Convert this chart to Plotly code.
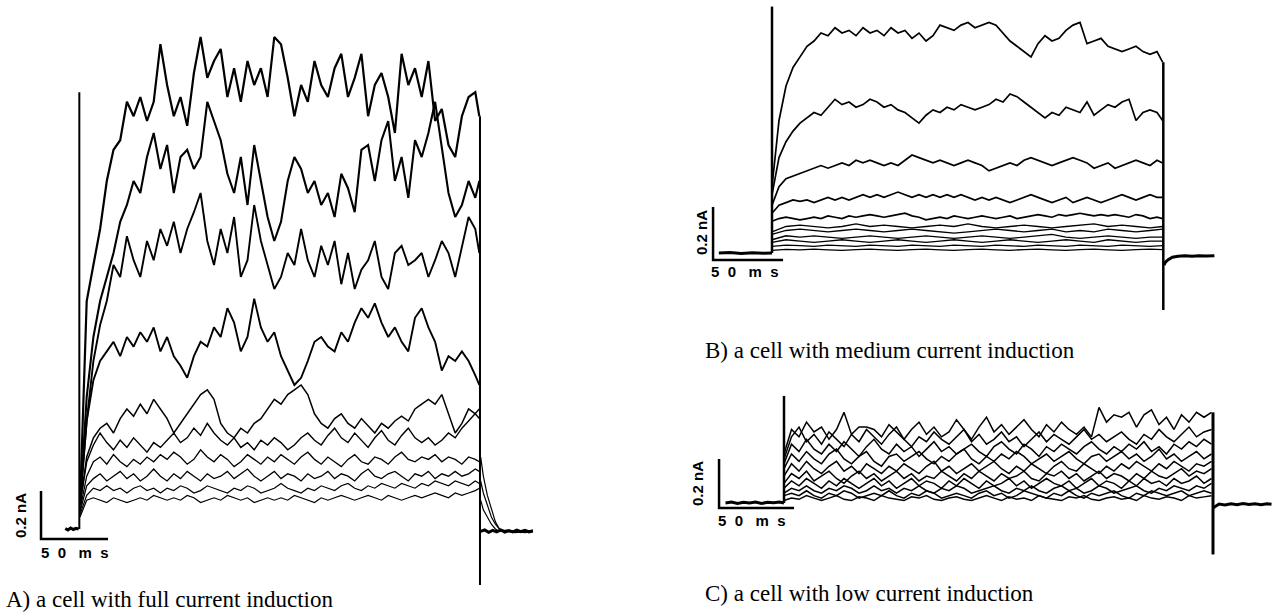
import plotly.graph_objects as go

W, H = 1276, 614

# ---------------- Panel A : full current induction (ms, nA) ----------------
tA = list(range(0, 300, 5)) + [298]
A1 = [0.10,0.95,1.10,1.25,1.45,1.58,1.62,1.78,1.72,1.80,1.70,1.78,2.02,1.85,1.72,1.80,1.68,1.90,2.05,1.88,
      1.95,2.00,1.80,1.92,1.78,1.95,1.85,1.92,1.80,2.05,2.02,1.88,1.72,1.85,1.78,1.95,1.85,1.80,1.92,1.98,
      1.80,1.88,1.98,1.72,1.85,1.90,1.80,1.65,1.98,1.85,1.92,1.80,1.95,1.70,1.75,1.60,1.55,1.72,1.80,1.82,1.72]
A2 = [0.10,0.55,0.80,0.95,1.05,1.15,1.28,1.35,1.45,1.40,1.55,1.65,1.50,1.60,1.40,1.55,1.58,1.50,1.55,1.78,
      1.70,1.62,1.48,1.40,1.55,1.35,1.60,1.45,1.30,1.20,1.28,1.45,1.55,1.50,1.40,1.45,1.35,1.40,1.30,1.48,
      1.42,1.32,1.58,1.60,1.45,1.62,1.70,1.45,1.55,1.38,1.62,1.55,1.65,1.78,1.60,1.40,1.30,1.35,1.45,1.38,1.45]
A3 = [0.10,0.45,0.70,0.85,0.95,1.10,1.05,1.22,1.12,1.05,1.20,1.12,1.25,1.18,1.28,1.15,1.25,1.32,1.40,1.20,
      1.10,1.25,1.15,1.30,1.05,1.12,1.35,1.20,1.10,1.00,1.05,1.15,1.10,1.25,1.12,1.05,1.18,1.10,1.20,1.02,
      1.15,1.00,1.08,1.12,1.20,1.05,1.00,1.15,1.18,1.10,1.12,1.15,1.05,1.12,1.20,1.15,1.05,1.18,1.30,1.25,1.15]
A4 = [0.12,0.45,0.62,0.70,0.74,0.78,0.72,0.80,0.76,0.82,0.78,0.84,0.74,0.80,0.72,0.68,0.63,0.72,0.78,0.76,
      0.84,0.80,0.92,0.86,0.74,0.80,0.96,0.84,0.78,0.82,0.72,0.66,0.60,0.63,0.70,0.78,0.80,0.76,0.74,0.82,
      0.78,0.86,0.92,0.88,0.94,0.86,0.80,0.84,0.78,0.74,0.88,0.92,0.84,0.78,0.66,0.72,0.70,0.74,0.70,0.64,0.60]
A5 = [0.10,0.30,0.38,0.42,0.44,0.40,0.46,0.50,0.47,0.52,0.48,0.54,0.50,0.46,0.40,0.44,0.48,0.52,0.56,0.58,
      0.54,0.44,0.40,0.38,0.42,0.40,0.44,0.46,0.50,0.54,0.52,0.56,0.58,0.60,0.56,0.48,0.44,0.42,0.46,0.48,
      0.44,0.42,0.46,0.43,0.40,0.44,0.42,0.45,0.47,0.45,0.50,0.52,0.54,0.52,0.56,0.48,0.40,0.44,0.50,0.48,0.46]
A6 = [0.10,0.28,0.35,0.40,0.36,0.33,0.37,0.34,0.38,0.35,0.32,0.36,0.34,0.37,0.40,0.36,0.38,0.42,0.39,0.44,
      0.40,0.37,0.35,0.38,0.34,0.36,0.33,0.37,0.35,0.38,0.36,0.33,0.35,0.38,0.40,0.37,0.35,0.39,0.42,0.38,
      0.36,0.40,0.37,0.34,0.38,0.41,0.37,0.35,0.39,0.42,0.38,0.36,0.38,0.35,0.37,0.40,0.38,0.42,0.45,0.48,0.50]
A7 = [0.08,0.22,0.28,0.30,0.27,0.31,0.28,0.26,0.29,0.27,0.30,0.28,0.31,0.29,0.32,0.30,0.27,0.29,0.33,0.30,
      0.28,0.31,0.29,0.26,0.28,0.31,0.29,0.27,0.30,0.28,0.31,0.29,0.27,0.30,0.32,0.29,0.27,0.30,0.28,0.26,
      0.29,0.31,0.28,0.27,0.30,0.29,0.27,0.30,0.32,0.29,0.28,0.30,0.29,0.31,0.28,0.30,0.29,0.27,0.30,0.29,0.28]
A8 = [0.07,0.18,0.21,0.23,0.20,0.22,0.24,0.21,0.23,0.20,0.22,0.25,0.22,0.20,0.23,0.21,0.24,0.22,0.20,0.23,
      0.21,0.22,0.24,0.21,0.23,0.25,0.22,0.20,0.22,0.24,0.21,0.23,0.22,0.20,0.23,0.21,0.22,0.24,0.21,0.23,
      0.22,0.20,0.23,0.25,0.22,0.21,0.23,0.24,0.22,0.20,0.23,0.22,0.24,0.21,0.23,0.22,0.24,0.22,0.23,0.25,0.24]
A9 = [0.06,0.14,0.17,0.16,0.18,0.16,0.17,0.15,0.17,0.18,0.16,0.17,0.15,0.17,0.16,0.18,0.17,0.15,0.16,0.18,
      0.17,0.16,0.15,0.17,0.16,0.18,0.17,0.15,0.16,0.17,0.19,0.17,0.16,0.15,0.17,0.16,0.18,0.17,0.16,0.18,
      0.19,0.17,0.16,0.18,0.17,0.19,0.18,0.17,0.19,0.18,0.17,0.19,0.18,0.20,0.19,0.18,0.20,0.19,0.18,0.20,0.19]
A10 = [0.05,0.12,0.13,0.12,0.11,0.13,0.12,0.11,0.12,0.13,0.12,0.14,0.13,0.12,0.13,0.12,0.14,0.13,0.11,0.12,
       0.13,0.12,0.14,0.13,0.12,0.13,0.11,0.12,0.13,0.12,0.13,0.12,0.14,0.13,0.12,0.11,0.13,0.12,0.13,0.14,
       0.13,0.12,0.13,0.14,0.13,0.12,0.14,0.13,0.12,0.13,0.14,0.13,0.14,0.15,0.14,0.13,0.15,0.14,0.15,0.16,0.17]
A_traces = [A1, A2, A3, A4, A5, A6, A7, A8, A9, A10]
A_widths = [2.2, 2.1, 1.9, 1.9, 1.5, 1.4, 1.3, 1.3, 1.2, 1.2]

A_pre_t = [-11, -9, -7, -5, -3, -1]
A_pre_I = [0.002, -0.004, 0.004, -0.002, 0.003, 0.0]
A_on_t = [-0.5, -0.5]
A_on_I = [0.0, 1.82]
A_off_t = [298.5, 298.5]
A_off_I = [1.72, -0.233]
A_tail_t = [299, 301, 304, 307, 310, 313, 318, 325, 332, 338]
A_tail1 = [0.30, 0.22, 0.14, 0.08, 0.03, 0.00, -0.01, -0.01, -0.005, -0.01]
A_tail2 = [0.20, 0.15, 0.10, 0.05, 0.02, 0.00, -0.01, -0.015, -0.01, -0.005]
A_tail3 = [0.12, 0.08, 0.05, 0.02, 0.00, -0.01, -0.005, -0.01, -0.015, -0.01]
A_base_t = [299, 302, 305, 308, 311, 314, 317, 320, 323, 326, 329, 332, 335, 338]
A_base_I = [-0.01, -0.004, -0.014, -0.006, -0.012, -0.004, -0.013, -0.007, -0.012, -0.005, -0.011, -0.006, -0.012, -0.008]

# ---------------- Panel B : medium current induction ----------------
tB = list(range(0, 280, 5)) + [279]
B1 = [0.25,0.50,0.63,0.70,0.74,0.78,0.80,0.83,0.82,0.85,0.83,0.84,0.82,0.85,0.83,0.84,0.82,0.85,0.83,0.84,
      0.81,0.83,0.80,0.82,0.86,0.85,0.84,0.86,0.87,0.85,0.86,0.87,0.86,0.83,0.80,0.78,0.76,0.74,0.79,0.82,
      0.80,0.81,0.84,0.86,0.87,0.79,0.80,0.81,0.78,0.77,0.76,0.77,0.78,0.76,0.75,0.76,0.72]
B2 = [0.22,0.36,0.42,0.46,0.49,0.51,0.53,0.52,0.55,0.58,0.56,0.57,0.55,0.56,0.58,0.57,0.55,0.56,0.54,0.53,
      0.51,0.49,0.52,0.54,0.53,0.55,0.54,0.56,0.55,0.54,0.55,0.56,0.58,0.57,0.60,0.59,0.57,0.55,0.53,0.51,
      0.53,0.52,0.55,0.54,0.53,0.57,0.52,0.54,0.56,0.55,0.57,0.58,0.50,0.53,0.54,0.53,0.50]
B3 = [0.18,0.25,0.28,0.29,0.30,0.31,0.32,0.33,0.32,0.33,0.34,0.33,0.35,0.34,0.35,0.34,0.33,0.34,0.33,0.35,
      0.37,0.36,0.35,0.34,0.35,0.34,0.33,0.34,0.35,0.34,0.33,0.31,0.32,0.33,0.34,0.33,0.35,0.36,0.35,0.34,
      0.33,0.34,0.35,0.36,0.35,0.34,0.32,0.33,0.34,0.32,0.33,0.34,0.35,0.34,0.33,0.35,0.34]
B4 = [0.15,0.18,0.19,0.20,0.195,0.20,0.19,0.20,0.21,0.20,0.21,0.20,0.21,0.22,0.21,0.22,0.21,0.22,0.23,0.22,
      0.21,0.22,0.21,0.22,0.21,0.22,0.21,0.22,0.21,0.20,0.21,0.20,0.21,0.20,0.19,0.20,0.21,0.22,0.21,0.20,
      0.19,0.20,0.21,0.19,0.20,0.21,0.20,0.19,0.20,0.21,0.22,0.21,0.20,0.21,0.22,0.21,0.21]
B5 = [0.12,0.13,0.135,0.13,0.125,0.13,0.135,0.13,0.14,0.135,0.13,0.14,0.135,0.14,0.145,0.14,0.135,0.14,0.145,0.15,
      0.14,0.135,0.125,0.13,0.135,0.13,0.14,0.135,0.13,0.135,0.14,0.135,0.13,0.135,0.14,0.13,0.135,0.14,0.145,0.14,
      0.135,0.145,0.14,0.145,0.15,0.145,0.14,0.145,0.14,0.145,0.14,0.135,0.145,0.14,0.13,0.135,0.13]
tB2 = list(range(0, 280, 10)) + [279]
B6 = [0.08,0.10,0.105,0.10,0.095,0.10,0.11,0.10,0.105,0.10,0.095,0.10,0.105,0.10,0.11,0.10,0.095,0.10,0.105,0.10,
      0.095,0.10,0.105,0.11,0.10,0.105,0.10,0.095,0.10]
B7 = [0.07,0.085,0.09,0.085,0.08,0.085,0.09,0.085,0.08,0.085,0.09,0.085,0.08,0.075,0.08,0.085,0.09,0.085,0.08,0.085,
      0.09,0.08,0.085,0.08,0.09,0.085,0.08,0.085,0.09]
B8 = [0.05,0.065,0.06,0.065,0.06,0.055,0.06,0.065,0.06,0.055,0.06,0.065,0.06,0.055,0.06,0.065,0.06,0.055,0.06,0.065,
      0.07,0.06,0.055,0.06,0.065,0.06,0.055,0.06,0.06]
B9 = [0.04,0.05,0.045,0.04,0.045,0.05,0.045,0.04,0.045,0.05,0.045,0.04,0.045,0.05,0.045,0.04,0.045,0.05,0.045,0.04,
      0.045,0.05,0.045,0.04,0.05,0.045,0.04,0.045,0.045]
B10 = [0.025,0.03,0.028,0.025,0.03,0.028,0.025,0.03,0.028,0.025,0.03,0.028,0.025,0.03,0.028,0.025,0.03,0.028,0.025,0.03,
       0.028,0.025,0.03,0.028,0.025,0.03,0.028,0.025,0.028]
B11 = [0.01,0.014,0.012,0.015,0.012,0.01,0.013,0.015,0.012,0.01,0.013,0.015,0.012,0.01,0.013,0.015,0.012,0.01,0.013,0.015,
       0.012,0.01,0.013,0.015,0.012,0.01,0.013,0.015,0.013]

B_pre_t = [-38, -30, -22, -14, -6, 0]
B_pre_I = [0.0, 0.002, -0.002, 0.001, -0.001, 0.0]
B_on_t = [0, 0]
B_on_I = [0.0, 0.93]
B_off_t = [279.5, 279.5]
B_off_I = [0.72, -0.215]
B_tail_t = [280, 281, 283, 286, 290, 295, 300, 305, 310, 316]
B_tail_I = [-0.045, -0.035, -0.025, -0.016, -0.012, -0.01, -0.012, -0.01, -0.011, -0.01]

# ---------------- Panel C : low current induction ----------------
tC = list(range(0, 290, 5))
C1 = [0.20,0.30,0.27,0.33,0.29,0.31,0.26,0.30,0.37,0.28,0.31,0.31,0.30,0.27,0.32,0.29,0.26,0.30,0.33,0.28,
      0.31,0.27,0.29,0.34,0.30,0.26,0.31,0.35,0.29,0.32,0.28,0.31,0.34,0.30,0.27,0.32,0.29,0.33,0.30,0.28,
      0.31,0.27,0.39,0.33,0.36,0.35,0.37,0.31,0.36,0.38,0.32,0.35,0.30,0.36,0.33,0.37,0.35,0.37]
C2 = [0.18,0.27,0.31,0.25,0.28,0.24,0.29,0.26,0.23,0.28,0.25,0.30,0.27,0.24,0.28,0.31,0.26,0.23,0.27,0.25,
      0.29,0.26,0.24,0.27,0.30,0.25,0.28,0.24,0.26,0.29,0.25,0.27,0.23,0.26,0.29,0.25,0.28,0.26,0.24,0.27,
      0.30,0.26,0.28,0.25,0.27,0.29,0.26,0.24,0.28,0.26,0.30,0.27,0.25,0.28,0.31,0.27,0.29,0.30]
C3 = [0.16,0.24,0.21,0.26,0.22,0.20,0.24,0.21,0.25,0.22,0.19,0.23,0.26,0.22,0.20,0.24,0.21,0.23,0.19,0.22,
      0.25,0.21,0.23,0.20,0.22,0.24,0.21,0.19,0.23,0.25,0.22,0.20,0.24,0.22,0.19,0.23,0.21,0.24,0.22,0.20,
      0.23,0.25,0.22,0.20,0.23,0.21,0.24,0.22,0.25,0.21,0.23,0.20,0.24,0.22,0.25,0.23,0.26,0.24]
C4 = [0.14,0.20,0.17,0.21,0.18,0.16,0.20,0.22,0.18,0.16,0.19,0.21,0.17,0.15,0.19,0.20,0.17,0.19,0.21,0.18,
      0.16,0.19,0.17,0.20,0.22,0.18,0.16,0.19,0.17,0.20,0.18,0.21,0.19,0.16,0.18,0.20,0.17,0.19,0.21,0.18,
      0.16,0.19,0.20,0.17,0.19,0.21,0.18,0.20,0.17,0.19,0.22,0.18,0.20,0.17,0.19,0.21,0.18,0.20]
C5 = [0.11,0.16,0.13,0.17,0.14,0.12,0.15,0.17,0.13,0.15,0.12,0.16,0.14,0.12,0.15,0.13,0.16,0.14,0.12,0.15,
      0.17,0.13,0.15,0.12,0.14,0.16,0.13,0.15,0.17,0.14,0.12,0.15,0.13,0.16,0.14,0.12,0.15,0.17,0.14,0.13,
      0.16,0.14,0.12,0.15,0.13,0.16,0.14,0.17,0.15,0.13,0.16,0.14,0.17,0.15,0.13,0.16,0.15,0.17]
C6 = [0.08,0.12,0.10,0.13,0.09,0.11,0.13,0.10,0.08,0.11,0.13,0.10,0.12,0.09,0.11,0.13,0.10,0.12,0.09,0.11,
      0.10,0.13,0.11,0.09,0.12,0.10,0.13,0.11,0.09,0.12,0.10,0.11,0.13,0.10,0.09,0.12,0.11,0.13,0.10,0.12,
      0.09,0.11,0.13,0.10,0.12,0.11,0.09,0.12,0.10,0.13,0.11,0.10,0.12,0.14,0.11,0.13,0.12,0.14]
C7 = [0.06,0.09,0.07,0.10,0.08,0.06,0.09,0.07,0.10,0.08,0.06,0.08,0.10,0.07,0.09,0.06,0.08,0.10,0.07,0.09,
      0.08,0.06,0.09,0.07,0.10,0.08,0.06,0.09,0.07,0.08,0.10,0.07,0.09,0.06,0.08,0.10,0.08,0.07,0.09,0.06,
      0.08,0.10,0.07,0.09,0.08,0.06,0.09,0.07,0.10,0.08,0.09,0.07,0.10,0.08,0.09,0.11,0.08,0.10]
C8 = [0.04,0.06,0.05,0.07,0.05,0.04,0.06,0.05,0.07,0.06,0.04,0.05,0.07,0.05,0.06,0.04,0.06,0.05,0.07,0.05,
      0.04,0.06,0.05,0.07,0.06,0.04,0.05,0.06,0.07,0.05,0.04,0.06,0.05,0.07,0.05,0.04,0.06,0.07,0.05,0.06,
      0.04,0.05,0.07,0.06,0.04,0.05,0.06,0.07,0.05,0.04,0.06,0.05,0.07,0.06,0.05,0.07,0.06,0.08]
C9 = [0.03,0.04,0.03,0.05,0.03,0.02,0.04,0.03,0.05,0.04,0.02,0.03,0.04,0.03,0.05,0.03,0.02,0.04,0.03,0.05,
      0.04,0.02,0.03,0.04,0.03,0.02,0.04,0.05,0.03,0.04,0.02,0.03,0.05,0.04,0.03,0.02,0.04,0.03,0.05,0.03,
      0.02,0.04,0.03,0.04,0.05,0.03,0.02,0.04,0.03,0.05,0.04,0.03,0.04,0.05,0.03,0.04,0.05,0.04]
C10 = [0.01,0.02,0.015,0.03,0.02,0.01,0.02,0.03,0.015,0.01,0.025,0.02,0.01,0.03,0.02,0.015,0.01,0.025,0.02,0.03,
       0.015,0.01,0.02,0.025,0.015,0.01,0.02,0.03,0.02,0.01,0.025,0.015,0.02,0.01,0.03,0.02,0.015,0.01,0.025,0.02,
       0.03,0.015,0.01,0.02,0.025,0.015,0.02,0.01,0.03,0.02,0.015,0.025,0.02,0.01,0.03,0.02,0.025,0.03]

C_pre_t = [-39, -35, -31, -27, -23, -19, -15, -11, -7, -3, 0]
C_pre_I = [0.0, 0.004, -0.002, 0.003, 0.0, 0.004, -0.002, 0.003, 0.001, 0.004, 0.0]
C_on_t = [0, 0]
C_on_I = [0.0, 0.437]
C_off_t = [286, 286]
C_off_I = [0.37, -0.21]
C_tail_t = [286, 290, 294, 298, 302, 306, 310, 314, 318, 322, 325]
C_tail_I = [-0.02, -0.004, -0.008, -0.003, -0.007, -0.002, -0.006, -0.003, -0.007, -0.003, -0.005]

# scale bars (ms, nA) in each panel
A_bar_t = [-29.1, -29.1, 20.9]
A_bar_I = [0.158, -0.042, -0.042]
B_bar_t = [-42.1, -42.1, 7.9]
B_bar_I = [0.174, -0.026, -0.026]
C_bar_t = [-43.3, -43.3, 6.7]
C_bar_I = [0.18, -0.02, -0.02]

# ---------------- layout geometry (pixels) ----------------
panels = {
    1: dict(x0=80, y0=529, pms=1.34, pna=240, box=(0, 620, 0, 614)),
    2: dict(x0=772, y0=253, pms=1.40, pna=265, box=(640, 1276, 0, 330)),
    3: dict(x0=784, y0=503, pms=1.50, pna=245, box=(640, 1276, 370, 614)),
}

fig = go.Figure()


def add(i, t, I, w=1.4):
    fig.add_trace(go.Scatter(
        x=t, y=I, mode="lines",
        line=dict(color="black", width=w),
        xaxis="x" if i == 1 else f"x{i}", yaxis="y" if i == 1 else f"y{i}",
        hoverinfo="skip", showlegend=False))


# Panel A
for tr, w in zip(A_traces[::-1], A_widths[::-1]):
    add(1, tA, tr, w)
add(1, A_pre_t, A_pre_I, 3)
add(1, A_on_t, A_on_I, 2)
add(1, A_off_t, A_off_I, 2)
add(1, A_tail_t, A_tail1, 1.2)
add(1, A_tail_t, A_tail2, 1.2)
add(1, A_tail_t, A_tail3, 1.2)
add(1, A_base_t, A_base_I, 3)
add(1, A_bar_t, A_bar_I, 2.5)

# Panel B
for tr in [B1, B2, B3, B4, B5]:
    add(2, tB, tr, 1.7)
for tr in [B6, B7, B8, B9, B10, B11]:
    add(2, tB2, tr, 1.3)
add(2, B_pre_t, B_pre_I, 3)
add(2, B_on_t, B_on_I, 2.5)
add(2, B_off_t, B_off_I, 2.5)
add(2, B_tail_t, B_tail_I, 3)
add(2, B_bar_t, B_bar_I, 2.5)

# Panel C
for tr in [C1, C2, C3, C4, C5, C6, C7, C8, C9, C10]:
    add(3, tC, tr, 1.5)
add(3, C_pre_t, C_pre_I, 3)
add(3, C_on_t, C_on_I, 2.5)
add(3, C_off_t, C_off_I, 3)
add(3, C_tail_t, C_tail_I, 3)
add(3, C_bar_t, C_bar_I, 2.5)

layout = dict(width=W, height=H, margin=dict(l=0, r=0, t=0, b=0),
              paper_bgcolor="white", plot_bgcolor="white", showlegend=False)
for i, p in panels.items():
    xl, xr, yt, yb = p["box"]
    xr_ = [(xl - p["x0"]) / p["pms"], (xr - p["x0"]) / p["pms"]]
    yr_ = [(p["y0"] - yb) / p["pna"], (p["y0"] - yt) / p["pna"]]
    xa = dict(domain=[xl / W, xr / W], range=xr_, visible=False, fixedrange=True)
    ya = dict(domain=[1 - yb / H, 1 - yt / H], range=yr_, visible=False, fixedrange=True)
    if i > 1:
        xa["anchor"] = f"y{i}"
        ya["anchor"] = f"x{i}"
    layout["xaxis" if i == 1 else f"xaxis{i}"] = xa
    layout["yaxis" if i == 1 else f"yaxis{i}"] = ya
fig.update_layout(**layout)

NB = "\u00a0"
ms_label = "5" + NB * 2 + "0" + NB * 3 + "m" + NB * 2 + "s"
bold = dict(family="Liberation Sans", size=15, color="black")
serif = dict(family="Liberation Serif", size=23, color="black")


def px(x, y):
    return x / W, 1 - y / H


def note(x, y, text, font, xanchor="left", yanchor="middle", angle=0):
    xx, yy = px(x, y)
    fig.add_annotation(x=xx, y=yy, xref="paper", yref="paper", text=text, showarrow=False,
                       font=font, xanchor=xanchor, yanchor=yanchor, textangle=angle)


note(20, 515, "<b>0.2 nA</b>", bold, xanchor="center", angle=-90)
note(39, 552, "<b>" + ms_label + "</b>", bold)
note(702, 233, "<b>0.2 nA</b>", bold, xanchor="center", angle=-90)
note(709, 271, "<b>" + ms_label + "</b>", bold)
note(697, 484, "<b>0.2 nA</b>", bold, xanchor="center", angle=-90)
note(716, 520, "<b>" + ms_label + "</b>", bold)

note(4, 599, "A) a cell with full current induction", serif)
note(703, 350, "B) a cell with medium current induction", serif)
note(703, 593, "C) a cell with low current induction", serif)

fig.write_html("out.html", config={"displayModeBar": False},
               post_script="document.body.style.margin='0px';")
